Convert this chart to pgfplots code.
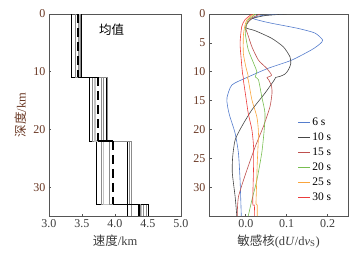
\documentclass[border=0pt]{standalone}
\usepackage{fontspec}
\setmainfont{Liberation Serif}
\newfontfamily\cjk{Noto Sans CJK SC}
\usepackage{pgfplots}
\pgfplotsset{compat=1.18}
\definecolor{axgray}{RGB}{85,85,85}
\definecolor{tickbrown}{RGB}{105,55,35}
\definecolor{tickgray}{RGB}{60,60,60}
\definecolor{kblue}{RGB}{85,125,205}
\definecolor{kgray}{RGB}{70,70,70}
\definecolor{kbrown}{RGB}{190,80,78}
\definecolor{kgreen}{RGB}{120,190,80}
\definecolor{korange}{RGB}{250,165,60}
\definecolor{kred}{RGB}{235,60,60}
\definecolor{pgray}{RGB}{140,140,140}
\definecolor{plgray}{RGB}{195,195,195}
\begin{document}
\begin{tikzpicture}
\path (-49pt,-38pt) rectangle (310pt,216pt);
\pgfplotsset{myax/.style={scale only axis, height=202pt, y dir=reverse, ymin=0, ymax=35,
  axis line style={draw=axgray, line width=0.8pt},
  tick align=inside, xtick pos=bottom, ytick pos=left, major tick length=2.5pt,
  tick style={axgray, line width=0.6pt},
  every tick label/.append style={font=\fontsize{12}{12}\selectfont},
  /pgf/number format/assume math mode=true,
  yticklabel style={color=tickbrown},
  xticklabel style={color=tickgray},
  label style={font=\fontsize{12.5}{13}\selectfont},
  ylabel style={color=tickbrown},
  xlabel style={color=tickgray}}}
\begin{axis}[myax, width=132pt, xmin=3, xmax=5,
  xtick={3,3.5,4,4.5,5},
  xticklabel style={/pgf/number format/.cd, fixed, fixed zerofill, precision=1},
  ytick={0,10,20,30},
  xlabel={{\cjk 速度}/km}, ylabel={{\cjk 深度}/km}]
% individual models
\addplot[black, line width=0.5pt] coordinates {(3.34,0)(3.34,11)(3.61,11)(3.61,22)(3.71,22)(3.71,33)(4.19,33)(4.19,35)};
\addplot[pgray, line width=0.5pt] coordinates {(3.40,0)(3.40,11)(3.66,11)(3.66,22)(3.79,22)(3.79,33)(4.24,33)(4.24,35)};
\addplot[plgray, line width=1.4pt] coordinates {(3.46,0)(3.46,11)(3.70,11)(3.70,22)(3.83,22)(3.83,33)(4.40,33)(4.40,35)};
\addplot[pgray, line width=0.5pt] coordinates {(3.48,0)(3.48,11)(3.79,11)(3.79,22)(3.91,22)(3.91,33)(4.43,33)(4.43,35)};
\addplot[pgray, line width=0.5pt] coordinates {(3.47,0)(3.47,11)(3.82,11)(3.82,22)(4.24,22)(4.24,33)(4.48,33)(4.48,35)};
\addplot[black, line width=0.5pt] coordinates {(3.495,0)(3.495,11)(3.86,11)(3.86,22)(4.18,22)(4.18,33)(4.50,33)(4.50,35)};
\addplot[pgray, line width=0.5pt] coordinates {(3.44,0)(3.44,11)(3.88,11)(3.88,22)(4.21,22)(4.21,33)(4.38,33)(4.38,35)};
% mean
\addplot[black, line width=2.2pt, dash pattern=on 9pt off 5pt] coordinates {(3.435,0)(3.435,11)};
\addplot[black, line width=2.2pt, dash pattern=on 9pt off 5pt] coordinates {(3.74,11)(3.74,22)};
\addplot[black, line width=2.2pt, dash pattern=on 9pt off 5pt] coordinates {(3.97,22)(3.97,33)};
\addplot[black, line width=2.2pt] coordinates {(4.36,33)(4.36,35)};
\addplot[black, line width=1.6pt] coordinates {(3.435,11)(3.74,11)};
\addplot[black, line width=1.6pt] coordinates {(3.74,22)(3.97,22)};
\addplot[black, line width=1.6pt] coordinates {(3.97,33)(4.36,33)};
\node[font=\cjk\fontsize{12.5}{12.5}\selectfont, color=black] at (axis cs:3.95,2.8) {均值};
\end{axis}
\begin{axis}[myax, at={(160pt,0pt)}, anchor=south west, width=139pt, xmin=-0.09, xmax=0.25,
  xtick={0,0.1,0.2},
  xticklabel style={/pgf/number format/.cd, fixed, fixed zerofill, precision=1},
  ytick={0,5,10,15,20,25,30},
  xlabel={{\cjk 敏感核}(d\textit{U}/d\textit{v}\textsubscript{S})},
  legend style={at={(0.63,0.50)}, anchor=north west, draw=none, fill=none,
    font=\fontsize{11.5}{11.5}\selectfont, row sep=1.8pt, inner sep=1pt},
  legend cell align=left,
  legend image code/.code={\draw[#1] (0pt,0pt) -- (12pt,0pt);}]
\addplot[kblue, line width=0.6pt, smooth, tension=0.4] coordinates {(0.09,0)(0.035,0.3)(0.018,0.75)(0.035,1.15)(0.063,1.6)(0.128,2.5)(0.169,3.3)(0.188,4.5)(0.181,5.2)(0.161,6.2)(0.112,8.0)(0.055,9.4)(0.006,10.9)(-0.034,12.3)(-0.046,14.5)(-0.045,15.8)(-0.040,17.5)(-0.026,20.7)(-0.018,24.1)(-0.014,28.8)(-0.011,35)};
\addlegendentry{6 s}
\addplot[kgray, line width=0.6pt, smooth, tension=0.4] coordinates {(0.10,0)(0.05,0.25)(0.015,0.8)(0.003,1.7)(0.0,2.4)(0.023,2.9)(0.063,4.2)(0.092,5.7)(0.108,7.4)(0.110,8.6)(0.104,9.7)(0.096,10.4)(0.084,10.8)(0.073,11.0)(0.070,11.4)(0.047,13.7)(0.015,16.6)(-0.010,19.5)(-0.026,21.8)(-0.032,24.7)(-0.033,27.5)(-0.026,31.7)(-0.022,35)};
\addlegendentry{10 s}
\addplot[kbrown, line width=0.6pt, smooth, tension=0.4] coordinates {(0.035,0)(0.012,0.8)(0.002,1.8)(0.0,2.5)(0.006,3.8)(0.015,5.7)(0.031,8)(0.051,9.4)(0.063,10.6)(0.052,11.0)(0.056,11.4)(0.063,12.5)(0.064,13.8)(0.059,16.1)(0.043,19.5)(0.023,23)(0.0,27.6)(-0.018,31.7)(-0.021,35)};
\addlegendentry{15 s}
\addplot[kgreen, line width=0.6pt, smooth, tension=0.4] coordinates {(0.025,0)(0.006,1)(0.0,2.3)(-0.001,3.5)(0.006,6.2)(0.019,8.5)(0.027,10)(0.023,10.9)(0.031,11.4)(0.039,14.3)(0.047,17.2)(0.045,20.1)(0.039,24.1)(0.027,28.8)(0.015,32.2)(0.006,35)};
\addlegendentry{20 s}
\addplot[korange, line width=0.6pt, smooth, tension=0.4] coordinates {(0.02,0)(0.003,1)(-0.003,2.3)(-0.006,3.9)(-0.006,6.8)(0.0,9.1)(0.006,10.8)(0.004,11.1)(0.006,11.4)(0.015,14.9)(0.027,17.8)(0.031,20.7)(0.028,25.9)(0.026,30.5)(0.025,32.9)(0.028,33.1)(0.028,35)};
\addlegendentry{25 s}
\addplot[kred, line width=0.6pt, smooth, tension=0.4] coordinates {(0.015,0)(-0.002,1)(-0.010,2.2)(-0.014,5.1)(-0.011,8)(-0.008,10.3)(-0.006,11)(-0.006,11.4)(0.0,14.3)(0.006,17.2)(0.015,20.1)(0.019,23)(0.019,26.5)(0.017,32.8)(0.021,33.1)(0.021,35)};
\addlegendentry{30 s}
\end{axis}
\end{tikzpicture}
\end{document}
